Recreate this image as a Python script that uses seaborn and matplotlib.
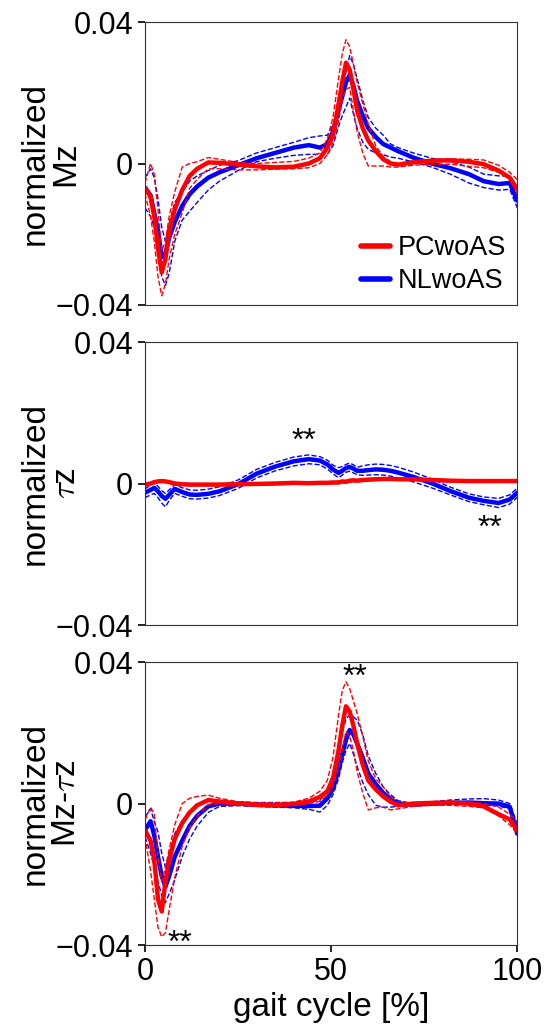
import numpy as np
import pandas as pd
import matplotlib.pyplot as plt
import seaborn as sns

# gait cycle sample points [%]
gait = [0, 1.5, 2.5, 3.5, 4.5, 5.5, 6.5, 8, 10, 12, 14, 17, 20, 25, 30, 35, 40, 44, 47, 49,
        50.5, 52, 53, 54, 55, 56, 57, 58.5, 60, 62, 64, 66, 68, 72, 77, 82, 87, 91, 95, 98, 100]

# values below are in units of 1e-3
# normalized Mz
mz_pc_mean = [-6.8, -9.5, -15, -24, -30.8, -27, -19, -13, -7.5, -3.5, -1.5, 0.3, 0.2, -0.3, -0.8, -1.1, -0.9, 0, 1.5, 4.5,
              8, 16.8, 23, 28.5, 26.5, 21, 15, 10, 6.5, 3.5, 1.2, 0, -0.3, 0.3, 0.8, 0.9, 0.5, -0.2, -2, -4, -7.2]
mz_pc_up = [-5.5, 0.0, -3, -13, -24.7, -22, -15, -8, -1, 0, 0.5, 1.7, 1.2, 0.3, 0, 0.3, 0.6, 1.5, 3, 7,
            13, 24, 31, 35, 33, 28, 23, 17, 11, 5, 2, 0.5, 0, 0.8, 1.2, 1.3, 1.2, 1, -0.5, -2.5, -4.5]
mz_pc_lo = [-8.5, -15, -22, -32, -37.4, -34, -27, -20, -14, -7, -4.5, -1.5, -1.5, -1.8, -1.8, -1.6, -1.5, -1.2, 0, 2.5,
            6, 12, 18, 21, 21.5, 15, 9, 3, -0.7, -0.7, -0.7, -1.0, -1.0, -0.5, -0.2, -0.2, -0.8, -1.2, -2.5, -4.5, -8.5]
mz_nl_mean = [-6.8, -9, -14, -19, -26.5, -25.5, -21, -16.5, -12, -8.7, -6.5, -4, -2.5, -0.5, 1.5, 3, 4.5, 5.2, 4.5, 5.5,
              9, 15, 19, 23, 25, 22, 17.7, 13.5, 10, 7.5, 5.5, 4.5, 3.5, 1.7, 0, -1.3, -3, -5, -5.8, -5.5, -10.5]
mz_nl_up = [-4, -1.5, -4, -10, -18, -22, -17, -11, -8, -5, -3.5, -2, -0.5, 0.8, 3, 4.5, 6, 7.3, 7.8, 8,
            11, 15, 19, 26, 30.5, 28, 24, 18, 13, 10, 8, 5.5, 4.5, 3, 1.5, 0.5, -1, -3, -3.5, -3.5, -6.8]
mz_nl_lo = [-12.5, -15, -18, -24, -32, -34.5, -31, -22, -16, -13.5, -11, -7.5, -5, -2, 0.5, 1.5, 2.3, 2.6, 2.6, 2.6,
            5, 10.5, 13.5, 16, 18.5, 14, 10, 6, 4, 3, 2.5, 1.8, 1.5, 0.5, -1, -3, -5.5, -6.8, -7.5, -7.3, -12.5]

# normalized tau z
tz_pc_mean = [-0.3, 0, 0.4, 0.6, 0.7, 0.6, 0.4, 0, -0.2, -0.3, -0.3, -0.3, -0.3, -0.2, -0.1, 0, 0.2, 0.1, 0.2, 0.2,
              0.3, 0.3, 0.6, 0.5, 0.8, 0.9, 0.8, 1.0, 1.1, 1.2, 1.3, 1.3, 1.2, 1.2, 1.0, 0.8, 0.7, 0.7, 0.7, 0.7, 0.7]
tz_pc_up = [0, 0.3, 0.7, 0.9, 1.0, 0.9, 0.7, 0.3, 0.1, 0, 0, 0, 0, 0.1, 0.2, 0.3, 0.5, 0.4, 0.5, 0.5,
            0.6, 0.6, 0.9, 0.8, 1.1, 1.2, 1.1, 1.3, 1.4, 1.5, 1.6, 1.6, 1.5, 1.5, 1.3, 1.1, 1.0, 1.0, 1.0, 1.0, 1.0]
tz_pc_lo = [-0.6, -0.3, 0.1, 0.3, 0.4, 0.3, 0.1, -0.3, -0.5, -0.6, -0.6, -0.6, -0.6, -0.5, -0.4, -0.3, -0.1, -0.2, -0.1, -0.1,
            0, 0, 0.3, 0.2, 0.5, 0.6, 0.5, 0.7, 0.8, 0.9, 1.0, 1.0, 0.9, 0.9, 0.7, 0.5, 0.4, 0.4, 0.4, 0.4, 0.4]
tz_nl_mean = [-2.6, -1.8, -1.2, -2.2, -3.5, -4.3, -3.2, -1.5, -2.4, -3.1, -3.2, -2.9, -2.2, -0.2, 2.8, 4.8, 6.3, 6.9, 6.5, 5.4,
              4.0, 3.0, 3.6, 4.4, 4.7, 4.2, 3.6, 3.6, 3.8, 4.0, 3.9, 3.6, 3.1, 1.9, 0.1, -2.1, -4.0, -4.9, -5.5, -4.5, -2.6]
tz_nl_up = [-1.5, -0.5, 0.3, -0.8, -2.0, -2.8, -1.8, -0.3, -1.2, -1.8, -1.9, -1.6, -0.9, 1.0, 4.0, 6.0, 7.5, 8.1, 7.6, 6.6,
            5.2, 4.5, 4.8, 5.4, 5.8, 5.3, 4.6, 5.0, 5.3, 5.5, 5.4, 5.1, 4.6, 3.3, 1.3, -1.0, -2.9, -3.8, -4.2, -3.2, -1.3]
tz_nl_lo = [-4.0, -3.2, -2.8, -4.0, -5.5, -6.6, -4.8, -2.8, -3.6, -4.3, -4.4, -4.1, -3.4, -1.4, 1.6, 3.6, 5.0, 5.6, 5.3, 4.1,
            2.8, 1.6, 2.4, 3.2, 3.5, 3.0, 2.5, 2.3, 2.4, 2.5, 2.4, 2.1, 1.6, 0.5, -1.2, -3.2, -5.1, -6.0, -6.8, -5.8, -3.9]

# normalized Mz - tau z
d_pc_mean = [-7.5, -10.5, -16, -27, -30.5, -22, -16, -10, -5.5, -2.5, -0.5, 1.0, 0.6, 0, -0.4, -0.5, -0.1, 0.6, 1.9, 3.5,
             7, 15, 22, 27.5, 26, 22, 17, 11, 6.5, 4, 2, 0.5, -0.5, 0, 0.2, 0.3, 0, -0.8, -3, -4.5, -7.5]
d_pc_up = [-4.7, -1, -3, -15, -22, -18, -13, -6, 0, 1.5, 2.0, 2.4, 1.5, 0.5, 0.2, 0.2, 0.4, 1.5, 3.5, 6.6,
           13, 25, 32, 34.4, 32.5, 29, 25.5, 19, 12, 7, 4.7, 2, 0, 0.2, 0.5, 0.5, 0.4, 0, -1, -3, -5.2]
d_pc_lo = [-9.4, -19, -27, -35, -37.7, -36.5, -30, -21, -12, -6.8, -3.5, -0.3, 0, -0.3, -0.5, -0.5, -0.5, 0, 0.6, 2.5,
           5, 10, 15, 20.5, 19, 15, 9, 3, -1.8, -1.2, -1.0, -1.8, -1.5, -0.8, -0.5, -0.5, -0.8, -1.2, -3.5, -6, -8.5]
d_nl_mean = [-7.5, -5, -9, -15, -20.5, -23.5, -20.5, -15, -10.5, -6.3, -3.5, -0.8, 0, 0, -0.3, -0.5, -0.6, -0.7, -0.6, 1.5,
             4.2, 9.5, 14, 18, 20.8, 19.5, 17, 13, 8.5, 5.5, 3, 1.3, 0, -0.3, 0, 0.2, 0.3, 0.1, 0, -0.9, -8.5]
d_nl_up = [-3.8, -1.5, -5, -8, -14, -18, -14.5, -8.5, -5, -2.2, -0.5, 0.9, 0.8, 0.5, 0.3, 0.3, 0.3, 0.5, 0.9, 4,
           8.5, 15.5, 20, 24, 25, 24.5, 23.6, 19.5, 13.5, 8.5, 4.7, 2.5, 0.8, 0, 0.5, 1, 1.3, 1.4, 1, 0, -5.7]
d_nl_lo = [-9.4, -14, -18, -22, -26, -28, -25.5, -21.5, -15, -10, -6.4, -2.5, -0.8, -0.6, -0.8, -1, -1.2, -1.6, -2.4, -0.5,
           2.5, 7, 11.5, 15, 17, 14, 10.5, 6, 2.5, -0.5, -1.0, -1.0, -0.8, -0.6, -0.4, -0.2, -0.3, -0.5, -0.7, -1.5, -8.5]

ylabels = ['normalized\nMz', 'normalized\n$\\tau$z', 'normalized\nMz-$\\tau$z']
yticks = [-0.04, 0, 0.04]
yticklabels = ['\u22120.04', '0', '0.04']
xticks = [0, 50, 100]
groups = ['PCwoAS', 'NLwoAS']
colors = {'PCwoAS': 'red', 'NLwoAS': 'blue'}
# significance marks: (panel, x, y)
stars = [(1, 42.6, 0.0117), (1, 92.8, -0.0128), (2, 56.3, 0.0356), (2, 9.4, -0.0397)]

panels = [
    {'PCwoAS': (mz_pc_mean, mz_pc_up, mz_pc_lo), 'NLwoAS': (mz_nl_mean, mz_nl_up, mz_nl_lo)},
    {'PCwoAS': (tz_pc_mean, tz_pc_up, tz_pc_lo), 'NLwoAS': (tz_nl_mean, tz_nl_up, tz_nl_lo)},
    {'PCwoAS': (d_pc_mean, d_pc_up, d_pc_lo), 'NLwoAS': (d_nl_mean, d_nl_up, d_nl_lo)},
]

sns.set_style('ticks')
plt.rcParams['font.family'] = ['Liberation Sans', 'DejaVu Sans']
plt.rcParams['mathtext.fontset'] = 'cm'
plt.rcParams.update({'text.color': 'black', 'axes.labelcolor': 'black',
                     'xtick.color': 'black', 'ytick.color': 'black'})

fig, axes = plt.subplots(3, 1, figsize=(5.45, 10.25), dpi=100, sharex=True)
plt.subplots_adjust(left=0.266, right=0.949, top=0.9785, bottom=0.078, hspace=0.131)

for i, (ax, data) in enumerate(zip(axes, panels)):
    for g in ['NLwoAS', 'PCwoAS']:
        mean, up, lo = [np.array(v) * 1e-3 for v in data[g]]
        df = pd.DataFrame({'gait': gait, 'mean': mean, 'up': up, 'lo': lo})
        sns.lineplot(data=df, x='gait', y='up', ax=ax, color=colors[g], lw=1, ls='--')
        sns.lineplot(data=df, x='gait', y='lo', ax=ax, color=colors[g], lw=1, ls='--')
        sns.lineplot(data=df, x='gait', y='mean', ax=ax, color=colors[g], lw=3.2, label=g)
    if ax.get_legend() is not None:
        ax.get_legend().remove()
    ax.set_xlim(0, 100)
    ax.set_ylim(-0.04, 0.04)
    ax.set_yticks(yticks)
    ax.set_yticklabels(yticklabels)
    ax.set_ylabel(ylabels[i], fontsize=24, linespacing=1.0)
    ax.yaxis.set_label_coords(-0.17, 0.5)
    ax.set_xlabel('')
    ax.tick_params(labelsize=22, length=5, width=1.2, colors='black')
    for s in ax.spines.values():
        s.set_color('#333333')
    if i < 2:
        ax.tick_params(axis='x', bottom=False)
    for p, x, y in stars:
        if p == i:
            ax.text(x, y, '**', ha='center', va='center', fontsize=23, color='black')

axes[2].set_xticks(xticks)
axes[2].set_xlabel('gait cycle [%]', fontsize=24)

h, l = axes[0].get_legend_handles_labels()
order = [l.index(g) for g in groups]
axes[0].legend([h[k] for k in order], groups, loc='lower right', frameon=False,
               fontsize=19.5, handlelength=1.05, handletextpad=0.3, borderaxespad=0.0, labelspacing=0.25)
for line in axes[0].get_legend().get_lines():
    line.set_linewidth(4)

fig.savefig('out.png', dpi=100)
